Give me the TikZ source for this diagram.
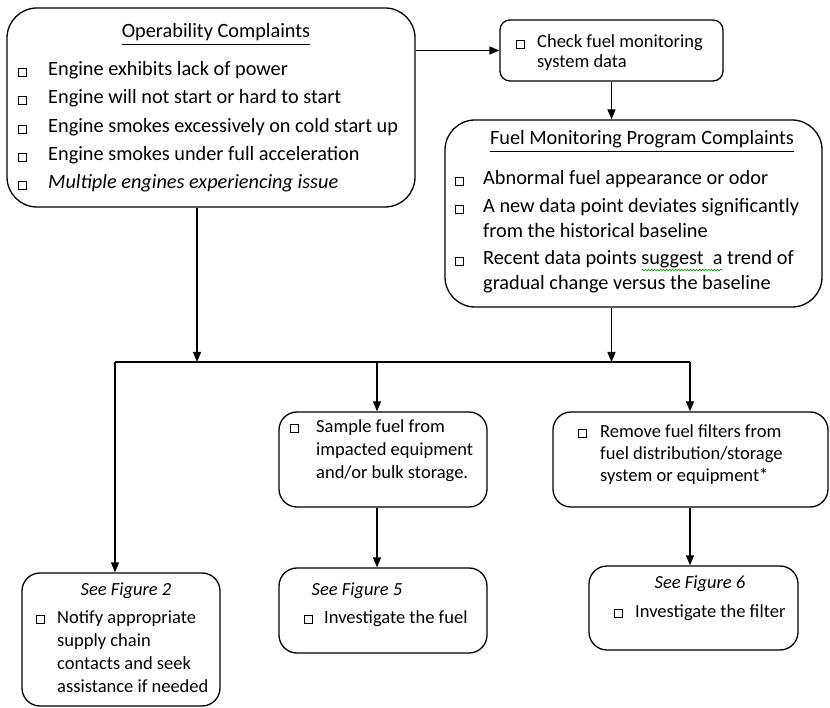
\documentclass[tikz,border=0pt]{standalone}
\usepackage{fontspec}
\setmainfont{Carlito}
\usetikzlibrary{arrows.meta,decorations.pathmorphing}

% small open check box followed by a fixed gap
\newcommand\cbx[1]{\makebox[#1][l]{\raisebox{0.2pt}{\fboxsep=0pt\fboxrule=0.7pt\fbox{\rule{0pt}{7pt}\rule{7.5pt}{0pt}}}}}

\begin{document}
\begin{tikzpicture}[x=1pt,y=-1pt,
  box/.style={draw, line width=1.3pt, inner sep=0pt, rounded corners=#1},
  box/.default=18pt,
  big/.style={font=\fontsize{20.3}{24}\selectfont},
  small/.style={font=\fontsize{18.5}{22}\selectfont},
  ln/.style={anchor=base west, inner sep=0pt},
  ttl/.style={anchor=base, inner sep=0pt},
  ul/.style={line width=0.8pt},
  arr/.style={line width=1.3pt, -{Triangle[length=10pt,width=8pt]}},
  wire/.style={line width=1.3pt}]

\useasboundingbox (0,0) rectangle (830,708);

% ---- boxes ----
\node[box=30pt, minimum width=408pt, minimum height=199pt] (op)  at (211,107.5) {};
\node[box=10pt, minimum width=223pt, minimum height=61pt]  (chk) at (611.5,50.5) {};
\node[box=30pt, minimum width=377pt, minimum height=187pt] (fmp) at (633.5,213.5) {};
\node[box, minimum width=208pt, minimum height=95pt]  (smp)  at (383,459.5) {};
\node[box, minimum width=275pt, minimum height=95pt]  (rem)  at (690.5,459.5) {};
\node[box, minimum width=198pt, minimum height=133pt] (fig2) at (121,639.5) {};
\node[box, minimum width=208pt, minimum height=85pt]  (fig5) at (383,610.5) {};
\node[box, minimum width=209pt, minimum height=84pt]  (fig6) at (693.5,608) {};

% ---- operability complaints ----
\node[ttl,big] (opt) at (216,38) {Operability Complaints};
\draw[ul] ([yshift=-6pt]opt.base west) -- ([yshift=-6pt]opt.base east);
\node[ln,big] (op1) at (18,76)  {\cbx{30pt}Engine exhibits lack of power};
\node[ln,big] (op2) at (18,104) {\cbx{30pt}Engine will not start or hard to start};
\node[ln,big] (op3) at (18,133) {\cbx{30pt}Engine smokes excessively on cold start up};
\node[ln,big] (op4) at (18,161) {\cbx{30pt}Engine smokes under full acceleration};
\node[ln,big] (op5) at (18,189) {\cbx{30pt}\itshape Multiple engines experiencing issue};

% ---- check monitoring data ----
\node[ln,small] (ck1) at (516,48) {\cbx{21pt}Check fuel monitoring};
\node[ln,small] (ck2) at (537,68) {system data};

% ---- fuel monitoring program complaints ----
\node[ttl,big] (fmt) at (642,145) {Fuel Monitoring Program Complaints};
\draw[ul] ([yshift=-6pt]fmt.base west) -- ([yshift=-6pt]fmt.base east);
\node[ln,big] (fm1) at (455,185) {\cbx{28pt}Abnormal fuel appearance or odor};
\node[ln,big] (fm2) at (455,213) {\cbx{28pt}A new data point deviates significantly};
\node[ln,big] (fm3) at (483,238) {from the historical baseline};
\node[ln,big] (fm4) at (455,265) {\cbx{28pt}Recent data points suggest\ \ a trend of};
\node[ln,big] (fm5) at (483,290) {gradual change versus the baseline};
% spelling-check wave under "suggest  a"
\node[ln,big] (sgA) at (455,265) {\phantom{\cbx{28pt}Recent data points }};
\node[ln,big] (sgB) at (455,265) {\phantom{\cbx{28pt}Recent data points suggest\ \ a}};
\draw[green!60!black, line width=0.6pt, decorate,
      decoration={snake, amplitude=0.8pt, segment length=3pt}]
  ([yshift=-5pt]sgA.base east) -- ([yshift=-5pt]sgB.base east);

% ---- sample fuel ----
\node[ln,small] (sm1) at (290,432) {\cbx{26pt}Sample fuel from};
\node[ln,small] (sm2) at (316,455) {impacted equipment};
\node[ln,small] (sm3) at (316,478) {and/or bulk storage.};

% ---- remove filters ----
\node[ln,small] (rm1) at (578,437) {\cbx{22pt}Remove fuel filters from};
\node[ln,small] (rm2) at (600,459) {fuel distribution/storage};
\node[ln,small] (rm3) at (600,481) {system or equipment*};

% ---- figure 2 ----
\node[ttl,small] (f2t) at (126,595) {\itshape See Figure 2};
\node[ln,small] (f21) at (36,623) {\cbx{21pt}Notify appropriate};
\node[ln,small] (f22) at (57,646) {supply chain};
\node[ln,small] (f23) at (57,669) {contacts and seek};
\node[ln,small] (f24) at (57,692) {assistance if needed};

% ---- figure 5 ----
\node[ttl,small] (f5t) at (357,595) {\itshape See Figure 5};
\node[ln,small] (f51) at (304,623) {\cbx{20pt}Investigate the fuel};

% ---- figure 6 ----
\node[ttl,small] (f6t) at (700,588) {\itshape See Figure 6};
\node[ln,small] (f61) at (614,617) {\cbx{21pt}Investigate the filter};

% ---- connectors ----
\coordinate (busL) at (115,362);
\coordinate (busR) at (690,362);
\draw[arr] (op.east |- chk.west) -- (chk.west);
\draw[arr] (chk.south) -- (chk.south |- fmp.north);
\draw[arr] ([xshift=-14pt]op.south) -- ([xshift=-14pt]op.south |- busL);
\draw[arr] (chk.south |- fmp.south) -- (chk.south |- busL);
\draw[wire] (busL) -- (busR);
\draw[arr] (busL) -- (busL |- fig2.north);
\draw[arr] ([xshift=-6pt]smp.north |- busL) -- ([xshift=-6pt]smp.north);
\draw[arr] (busR) -- (busR |- rem.north);
\draw[arr] ([xshift=-6pt]smp.south) -- ([xshift=-6pt]smp.south |- fig5.north);
\draw[arr] (busR |- rem.south) -- (busR |- fig6.north);
\end{tikzpicture}
\end{document}
